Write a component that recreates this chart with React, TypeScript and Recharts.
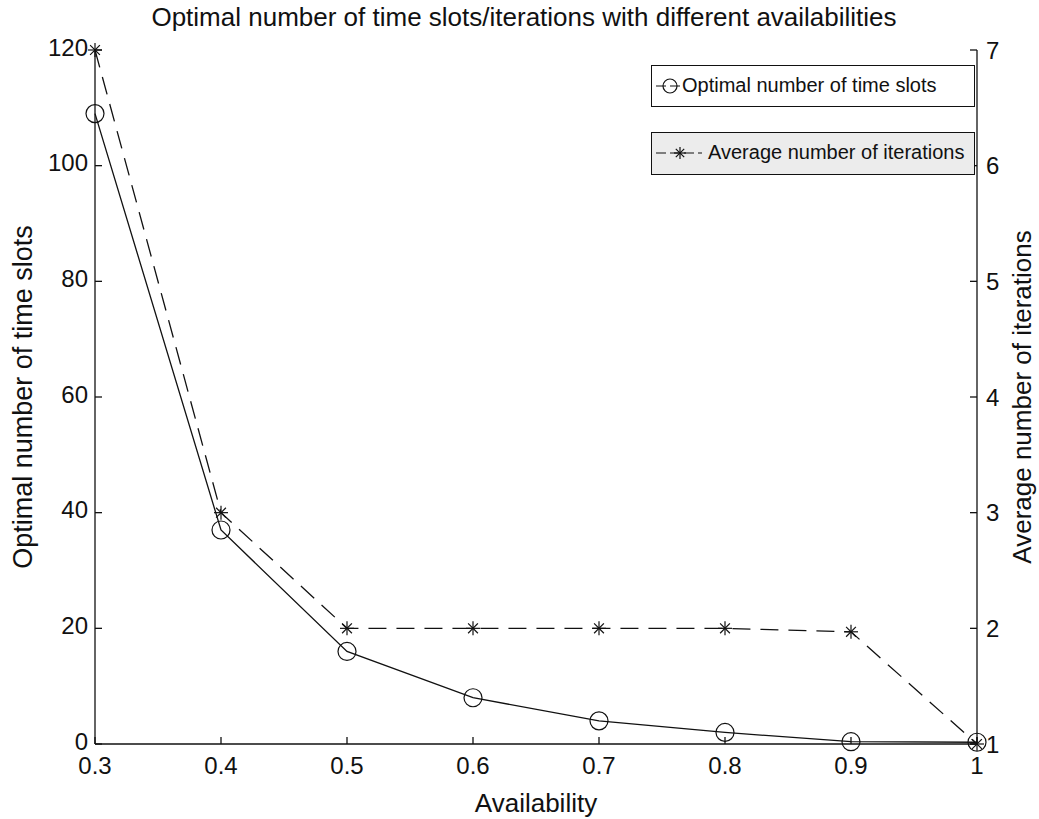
import React from 'react';
import { LineChart, Line, XAxis, YAxis, Legend } from 'recharts';

const availability = [0.3, 0.4, 0.5, 0.6, 0.7, 0.8, 0.9, 1];
const timeSlots = [109, 37, 16, 8, 4, 2, 0.4, 0.3];
const iterations = [7, 3, 2, 2, 2, 2, 1.97, 1];
const leftTicks = [0, 20, 40, 60, 80, 100, 120];
const rightTicks = [1, 2, 3, 4, 5, 6, 7];

const data = availability.map((x, i) => ({ x, slots: timeSlots[i], iters: iterations[i] }));

const FONT = '"Liberation Sans", Arial, sans-serif';
const INK = '#111';

const CircleDot = (props: any) => {
  const { cx, cy, index } = props;
  if (cx == null || cy == null) return null;
  return <circle key={`c-${index}`} cx={cx} cy={cy} r={9} fill="none" stroke={INK} strokeWidth={1.2} />;
};

const Asterisk = ({ cx, cy, s = 7 }: { cx: number; cy: number; s?: number }) => {
  const d = s * 0.7;
  return (
    <g stroke={INK} strokeWidth={1.2}>
      <line x1={cx - s} y1={cy} x2={cx + s} y2={cy} />
      <line x1={cx} y1={cy - s} x2={cx} y2={cy + s} />
      <line x1={cx - d} y1={cy - d} x2={cx + d} y2={cy + d} />
      <line x1={cx - d} y1={cy + d} x2={cx + d} y2={cy - d} />
    </g>
  );
};

const StarDot = (props: any) => {
  const { cx, cy, index } = props;
  if (cx == null || cy == null) return null;
  return <Asterisk key={`s-${index}`} cx={cx} cy={cy} />;
};

// two separate framed boxes, like the scanned legend
const LegendBoxes = () => (
  <div style={{ fontFamily: FONT, fontSize: 20, color: INK }}>
    <div style={{ position: 'relative', height: 40, border: '1px solid #111', background: '#fff' }}>
      <svg width={30} height={40} style={{ position: 'absolute', left: 3, top: 0 }}>
        <line x1={1} y1={20} x2={29} y2={20} stroke={INK} strokeWidth={1.2} strokeDasharray="10 4" />
        <circle cx={15} cy={20} r={7} fill="none" stroke={INK} strokeWidth={1.2} />
      </svg>
      <span style={{ position: 'absolute', left: 30, top: 8 }}>Optimal number of time slots</span>
    </div>
    <div style={{ position: 'relative', height: 41, marginTop: 25, border: '1px solid #111', background: '#ececec' }}>
      <svg width={50} height={41} style={{ position: 'absolute', left: 2, top: 0 }}>
        <line x1={2} y1={20} x2={48} y2={20} stroke={INK} strokeWidth={1.2} strokeDasharray="10 4" />
        <Asterisk cx={26} cy={20} s={6} />
      </svg>
      <span style={{ position: 'absolute', left: 56, top: 8 }}>Average number of iterations</span>
    </div>
  </div>
);

export default function App() {
  return (
    <div style={{ position: 'absolute', left: 0, top: 0, width: 1039, height: 819, background: '#fff' }}>
      <div
        style={{
          position: 'absolute',
          left: 0,
          top: 2,
          width: 1048,
          textAlign: 'center',
          fontFamily: FONT,
          fontSize: 26,
          color: INK,
        }}
      >
        Optimal number of time slots/iterations with different availabilities
      </div>
      <LineChart width={1039} height={819} data={data} margin={{ top: 50, right: 0, bottom: 0, left: 0 }}>
        <XAxis
          dataKey="x"
          type="number"
          domain={[0.3, 1]}
          ticks={availability}
          tickFormatter={(v: number) => (v === 1 ? '1' : v.toFixed(1))}
          height={75}
          tickSize={-7}
          tickMargin={20}
          stroke={INK}
          strokeWidth={1.3}
          tick={{ fill: INK, fontSize: 24, fontFamily: FONT }}
          label={{ value: 'Availability', position: 'insideBottom', offset: 7, fill: INK, fontSize: 26, fontFamily: FONT }}
        />
        <XAxis
          xAxisId="top"
          orientation="top"
          dataKey="x"
          type="number"
          domain={[0.3, 1]}
          ticks={availability}
          tickFormatter={() => ''}
          height={0}
          tickSize={-7}
          stroke={INK}
          strokeWidth={1.3}
        />
        <YAxis
          yAxisId="left"
          domain={[0, 120]}
          ticks={leftTicks}
          width={95}
          tickSize={-7}
          tickMargin={14}
          stroke={INK}
          strokeWidth={1.3}
          tick={{ fill: INK, fontSize: 24, fontFamily: FONT, dy: -3 }}
          label={{
            value: 'Optimal number of time slots',
            angle: -90,
            position: 'insideLeft',
            offset: 22,
            style: { textAnchor: 'middle' },
            fill: INK,
            fontSize: 27,
            fontFamily: FONT,
          }}
        />
        <YAxis
          yAxisId="right"
          orientation="right"
          domain={[1, 7]}
          ticks={rightTicks}
          width={62}
          tickSize={-7}
          tickMargin={16}
          stroke={INK}
          strokeWidth={1.3}
          tick={{ fill: INK, fontSize: 24, fontFamily: FONT }}
          label={{
            value: 'Average number of iterations',
            angle: -90,
            position: 'insideRight',
            offset: 17,
            style: { textAnchor: 'middle' },
            fill: INK,
            fontSize: 26,
            fontFamily: FONT,
          }}
        />
        <Legend
          layout="horizontal"
          verticalAlign="middle"
          align="center"
          content={() => <LegendBoxes />}
          wrapperStyle={{ position: 'absolute', top: 65, left: 651, width: 324 }}
        />
        <Line
          yAxisId="left"
          dataKey="slots"
          stroke={INK}
          strokeWidth={1.3}
          dot={CircleDot}
          activeDot={false}
          isAnimationActive={false}
        />
        <Line
          yAxisId="right"
          dataKey="iters"
          stroke={INK}
          strokeWidth={1.3}
          strokeDasharray="18 10"
          dot={StarDot}
          activeDot={false}
          isAnimationActive={false}
        />
      </LineChart>
    </div>
  );
}
